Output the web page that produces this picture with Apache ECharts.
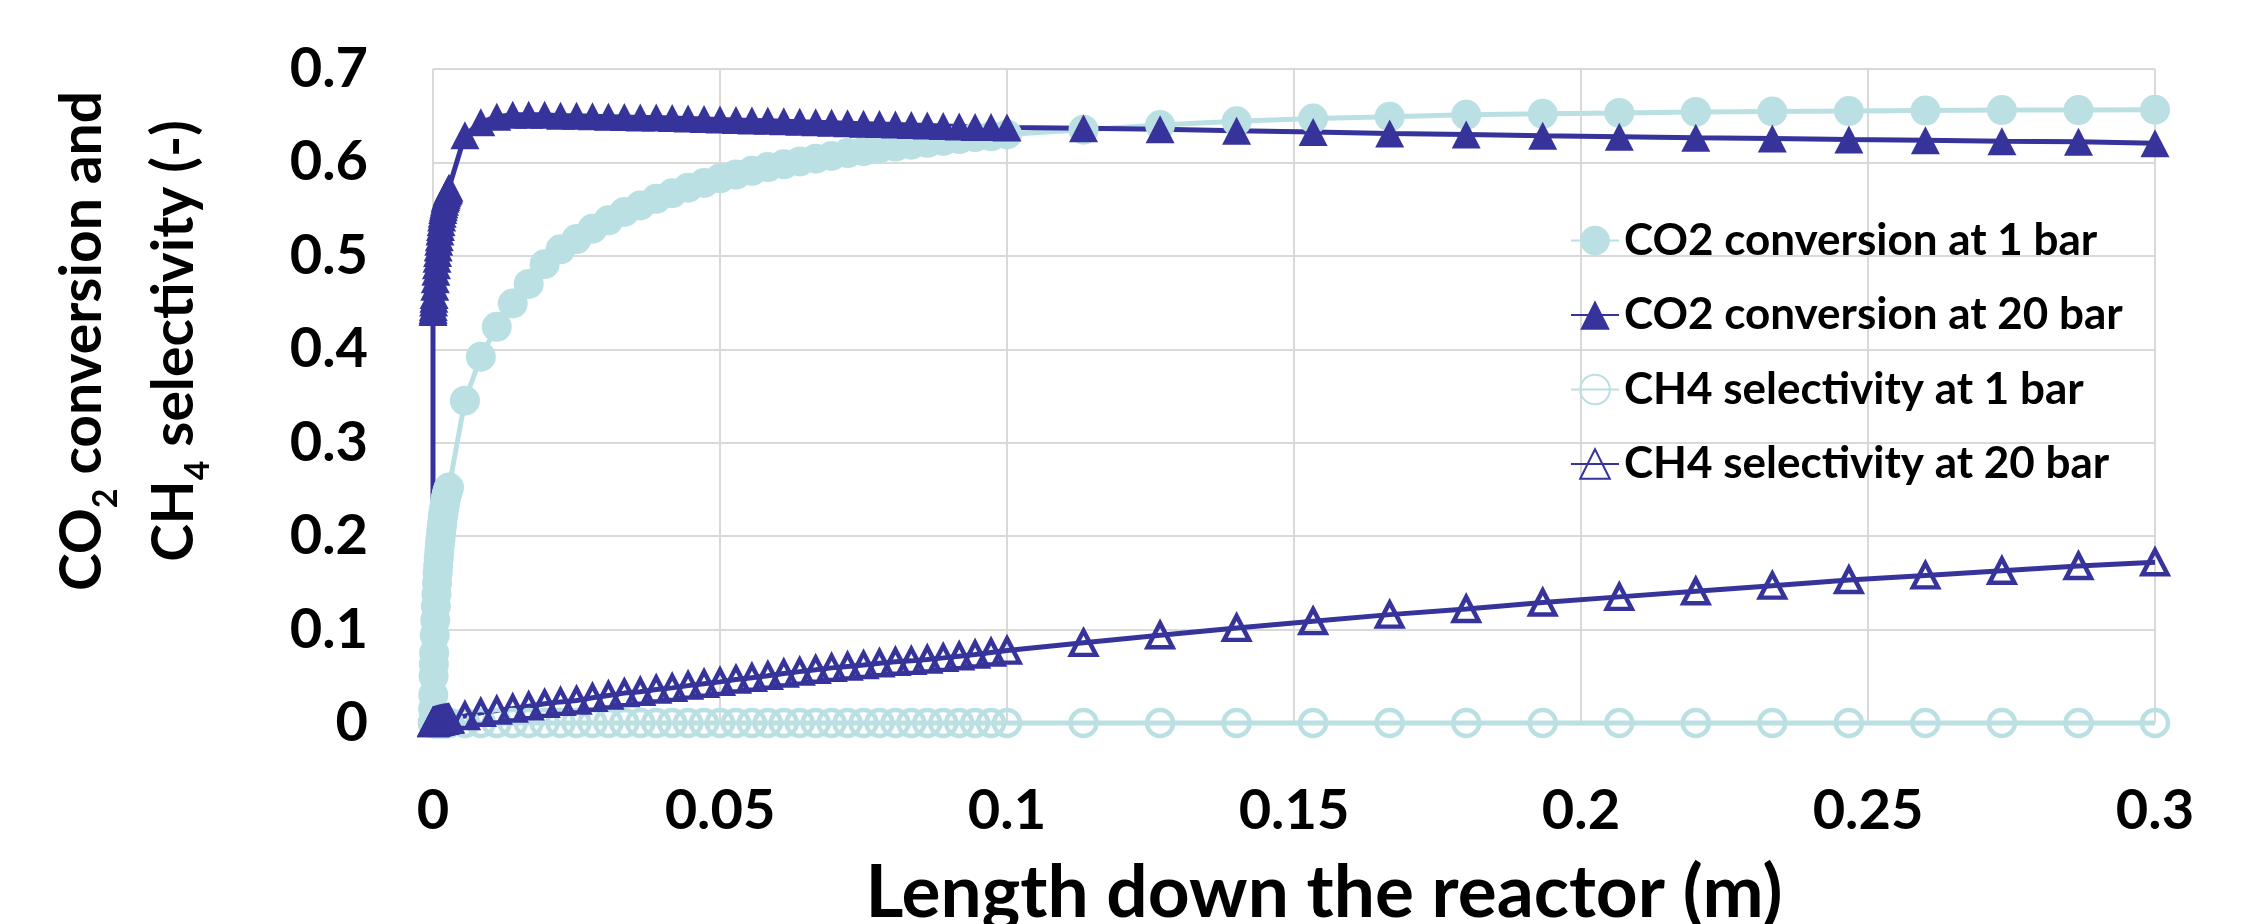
<!DOCTYPE html>
<html>
<head>
<meta charset="utf-8">
<script src="https://cdn.jsdelivr.net/npm/echarts@6/dist/echarts.min.js"></script>
<style>html,body{margin:0;padding:0;background:#fff;}#c{width:2251px;height:924px;}</style>
</head>
<body>
<div id="c"></div>
<script>
// Length down the reactor (m)
const lengthM = [
  0, 0, 0.00002, 0.00005, 0.0001, 0.00015, 0.0002,
  0.0003, 0.0004, 0.0005, 0.0006, 0.0007, 0.0008, 0.0009, 0.001, 0.0011, 0.0012, 0.0013, 0.0014, 0.0015,
  0.0016, 0.0017, 0.0018, 0.0019, 0.002, 0.0021, 0.0022, 0.0023, 0.0024, 0.0025, 0.0026, 0.0027,
  0.00278, 0.00556, 0.00833, 0.01111, 0.01389, 0.01667, 0.01944, 0.02222, 0.025, 0.02778, 0.03056, 0.03333,
  0.03611, 0.03889, 0.04167, 0.04444, 0.04722, 0.05, 0.05278, 0.05556, 0.05833, 0.06111, 0.06389, 0.06667,
  0.06944, 0.07222, 0.075, 0.07778, 0.08056, 0.08333, 0.08611, 0.08889, 0.09167, 0.09444, 0.09722, 0.1,
  0.11333, 0.12667, 0.14, 0.15333, 0.16667, 0.18, 0.19333, 0.20667, 0.22, 0.23333, 0.24667, 0.26, 0.27333, 0.28667, 0.3
];
const co2Conv1bar = [
  0, 0, 0.015, 0.03, 0.05, 0.063, 0.075,
  0.094, 0.11, 0.125, 0.138, 0.15, 0.16, 0.168, 0.176, 0.184, 0.191, 0.197, 0.203, 0.209,
  0.214, 0.22, 0.224, 0.228, 0.232, 0.236, 0.239, 0.242, 0.245, 0.247, 0.249, 0.251,
  0.252, 0.345, 0.392, 0.424, 0.449, 0.470, 0.491, 0.507, 0.518, 0.529, 0.538, 0.547,
  0.554, 0.561, 0.567, 0.573, 0.578, 0.583, 0.587, 0.591, 0.595, 0.598, 0.601, 0.604,
  0.607, 0.610, 0.612, 0.615, 0.617, 0.619, 0.621, 0.623, 0.625, 0.627, 0.628, 0.630,
  0.635, 0.640, 0.644, 0.647, 0.649, 0.651, 0.652, 0.653, 0.654, 0.6545, 0.655, 0.6555, 0.656, 0.656, 0.6565
];
const co2Conv20bar = [
  0, 0.44, 0.442, 0.445, 0.45, 0.454, 0.458,
  0.467, 0.475, 0.483, 0.49, 0.497, 0.503, 0.509, 0.515, 0.52, 0.526, 0.531, 0.536, 0.541,
  0.545, 0.549, 0.552, 0.555, 0.558, 0.561, 0.563, 0.565, 0.567, 0.569, 0.570, 0.571,
  0.573, 0.629, 0.643, 0.649, 0.651, 0.651, 0.651, 0.650, 0.650, 0.6495, 0.649, 0.6485,
  0.648, 0.648, 0.6475, 0.647, 0.6465, 0.646, 0.6455, 0.645, 0.6445, 0.644, 0.6435, 0.643,
  0.6425, 0.642, 0.6415, 0.641, 0.6405, 0.640, 0.6395, 0.639, 0.6385, 0.638, 0.6378, 0.6375,
  0.6365, 0.6355, 0.634, 0.6327, 0.631, 0.630, 0.6285, 0.6274, 0.6263, 0.6256, 0.6245, 0.6238, 0.6227, 0.622, 0.6205
];
const ch4Sel1bar = [
  0, 0, 0, 0, 0, 0, 0,
  0, 0, 0, 0, 0, 0, 0, 0, 0, 0, 0, 0, 0,
  0, 0, 0, 0, 0, 0, 0, 0, 0, 0, 0, 0,
  0, 0, 0, 0, 0, 0, 0, 0, 0, 0, 0, 0,
  0, 0, 0, 0, 0, 0, 0, 0, 0, 0, 0, 0,
  0, 0, 0, 0, 0, 0, 0, 0, 0, 0, 0, 0,
  0, 0, 0, 0, 0, 0, 0, 0, 0, 0, 0, 0, 0, 0, 0
];
const ch4Sel20bar = [
  0, 0, 0.0001, 0.0002, 0.0003, 0.0004, 0.0005,
  0.0007, 0.0009, 0.0011, 0.0013, 0.0015, 0.0016, 0.0018, 0.0019, 0.0021, 0.0022, 0.0024, 0.0025, 0.0026,
  0.0028, 0.0029, 0.003, 0.0031, 0.0032, 0.0033, 0.0034, 0.0035, 0.0036, 0.0037, 0.0038, 0.0039,
  0.004, 0.0075, 0.011, 0.0134, 0.0155, 0.018, 0.0205, 0.0226, 0.024, 0.027, 0.0295, 0.032,
  0.0335, 0.0358, 0.0376, 0.040, 0.042, 0.044, 0.0465, 0.0485, 0.0505, 0.053, 0.055, 0.057,
  0.059, 0.0605, 0.062, 0.064, 0.0655, 0.0665, 0.068, 0.0697, 0.0715, 0.0733, 0.0755, 0.0775,
  0.0858, 0.094, 0.1018, 0.109, 0.116, 0.122, 0.129, 0.135, 0.141, 0.147, 0.153, 0.158, 0.163, 0.168, 0.172
];
const seriesNames = ['CO2 conversion at 1 bar', 'CO2 conversion at 20 bar', 'CH4 selectivity at 1 bar', 'CH4 selectivity at 20 bar'];
const xTickLabels = ['0', '0.05', '0.1', '0.15', '0.2', '0.25', '0.3'];
const yTickLabels = ['0', '0.1', '0.2', '0.3', '0.4', '0.5', '0.6', '0.7'];

const LIGHT = '#BBE0E3';
const DARK = '#36339A';
const FONT = 'Lato';

function pairs(ys) { return lengthM.map((x, i) => [x, ys[i]]); }

const chart = echarts.init(document.getElementById('c'), null, {renderer: 'canvas'});
chart.setOption({
  animation: false,
  backgroundColor: '#fff',
  grid: {left: 433, top: 69, width: 1722, height: 654, containLabel: false, outerBoundsMode: 'none'},
  xAxis: {
    type: 'value', min: 0, max: 0.3, interval: 0.05,
    axisLine: {show: false}, axisTick: {show: false},
    splitLine: {show: true, lineStyle: {color: '#D9D9D9', width: 2}},
    axisLabel: {
      margin: 60, color: '#000', fontFamily: FONT, fontWeight: 'bold', fontSize: 56, lineHeight: 56,
      formatter: (v, i) => xTickLabels[i]
    },
    name: 'Length down the reactor (m)',
    nameLocation: 'middle', nameGap: 134,
    nameTextStyle: {color: '#000', fontFamily: FONT, fontWeight: 'bold', fontSize: 73, lineHeight: 73, padding: [0, 0, 0, 60]}
  },
  yAxis: {
    type: 'value', min: 0, max: 0.7, interval: 0.1,
    axisLine: {show: false}, axisTick: {show: false},
    splitLine: {show: true, lineStyle: {color: '#D9D9D9', width: 2}},
    axisLabel: {
      margin: 65, color: '#000', fontFamily: FONT, fontWeight: 'bold', fontSize: 56, lineHeight: 56,
      formatter: (v, i) => yTickLabels[i]
    },
    name: '{a|CO}{s|2}{a| conversion and}\n{a|CH}{s|4}{a| selectivity (-)}',
    nameLocation: 'middle', nameGap: 212,
    nameTextStyle: {
      padding: [0, 0, 0, 110],
      rich: {
        a: {color: '#000', fontFamily: FONT, fontWeight: 'bold', fontSize: 57, lineHeight: 92},
        s: {color: '#000', fontFamily: FONT, fontWeight: 'bold', fontSize: 34, lineHeight: 34, padding: [46, 0, 0, 0]}
      }
    }
  },
  legend: {
    orient: 'vertical', left: 1565, top: 213,
    itemWidth: 48, itemHeight: 37, itemGap: 29.5,
    selectedMode: false,
    textStyle: {color: '#000', fontFamily: FONT, fontWeight: 'bold', fontSize: 44, lineHeight: 45},
    data: seriesNames
  },
  series: [
    {
      name: seriesNames[0], type: 'line', data: pairs(co2Conv1bar), clip: false,
      symbol: 'circle', symbolSize: 30,
      itemStyle: {color: LIGHT}, lineStyle: {color: LIGHT, width: 5}
    },
    {
      name: seriesNames[1], type: 'line', data: pairs(co2Conv20bar), clip: false,
      symbol: 'triangle', symbolSize: [29, 28],
      itemStyle: {color: DARK}, lineStyle: {color: DARK, width: 5}
    },
    {
      name: seriesNames[2], type: 'line', data: pairs(ch4Sel1bar), clip: false,
      symbol: 'circle', symbolSize: 26,
      itemStyle: {color: 'rgba(255,255,255,0)', borderColor: LIGHT, borderWidth: 4.5},
      lineStyle: {color: LIGHT, width: 5}
    },
    {
      name: seriesNames[3], type: 'line', data: pairs(ch4Sel20bar), clip: false,
      symbol: 'triangle', symbolSize: [25, 24],
      itemStyle: {color: 'rgba(255,255,255,0)', borderColor: DARK, borderWidth: 4.5},
      lineStyle: {color: DARK, width: 5}
    }
  ]
});
</script>
</body>
</html>
